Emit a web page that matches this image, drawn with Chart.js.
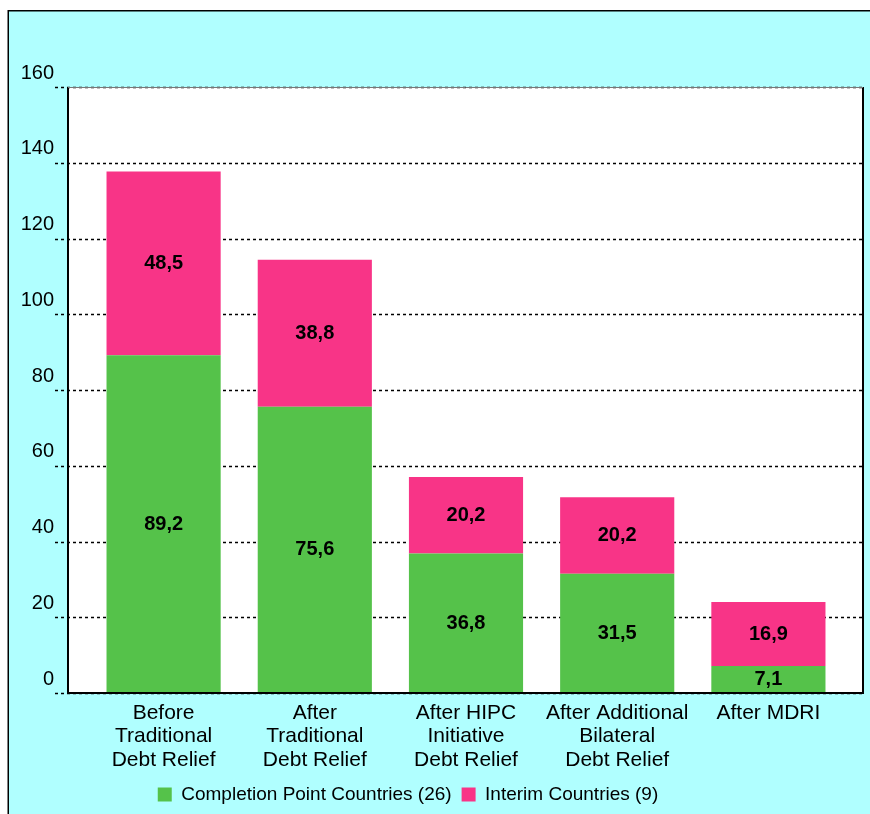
<!DOCTYPE html>
<html><head><meta charset="utf-8">
<script src="https://cdn.jsdelivr.net/npm/chart.js@4.4.0/dist/chart.umd.min.js"></script>
<style>html,body{margin:0;padding:0;background:#fff;}</style>
</head><body>
<canvas id="c" width="870" height="814"></canvas>
<script>
const categories = [
  ["Before", "Traditional", "Debt Relief"],
  ["After", "Traditional", "Debt Relief"],
  ["After HIPC", "Initiative", "Debt Relief"],
  ["After Additional", "Bilateral", "Debt Relief"],
  ["After MDRI"]
];
const completionPoint = [89.2, 75.6, 36.8, 31.5, 7.1];
const interim = [48.5, 38.8, 20.2, 20.2, 16.9];
const seriesNames = ["Completion Point Countries (26)", "Interim Countries (9)"];
const yMin = 0, yMax = 160, yStep = 20;

const FONT = "'Liberation Sans', Arial, sans-serif";
const GREEN = "#55c24a";
const PINK = "#f83487";
const CYAN = "#b0ffff";
const EXT_L = 20, EXT_R = 19;

const framePlugin = {
  id: 'frame',
  afterLayout(chart) {
    if (chart.legend) { chart.legend.left -= 14; chart.legend.right -= 14; }
  },
  beforeDraw(chart) {
    const ctx = chart.ctx, a = chart.chartArea;
    ctx.save();
    ctx.fillStyle = '#fff';
    ctx.fillRect(0, 0, chart.width, chart.height);
    ctx.fillStyle = CYAN;
    ctx.fillRect(8, 10, chart.width - 8, chart.height - 10);
    ctx.fillStyle = '#000';
    ctx.fillRect(8, 10, chart.width - 8, 1.5);
    ctx.fillRect(7.5, 10, 1.5, chart.height - 10);
    ctx.fillStyle = '#fff';
    ctx.fillRect(a.left - EXT_L, a.top, (a.right + EXT_R) - (a.left - EXT_L), a.bottom - a.top);
    ctx.restore();
  },
  beforeDatasetsDraw(chart) {
    const ctx = chart.ctx, a = chart.chartArea, ys = chart.scales.y;
    ctx.save();
    ctx.strokeStyle = '#000';
    ctx.lineWidth = 1.5;
    ctx.setLineDash([3, 3]);
    ys.ticks.forEach(t => {
      const y = Math.round(ys.getPixelForValue(t.value)) + 0.5;
      ctx.beginPath();
      ctx.moveTo(a.left - EXT_L - 13, y);
      ctx.lineTo(a.right + EXT_R, y);
      ctx.stroke();
    });
    ctx.restore();
  },
  afterDatasetsDraw(chart) {
    const ctx = chart.ctx, a = chart.chartArea;
    ctx.save();
    ctx.strokeStyle = '#000';
    ctx.lineWidth = 2;
    ctx.beginPath();
    ctx.moveTo(a.left - EXT_L, a.top);
    ctx.lineTo(a.left - EXT_L, a.bottom);
    ctx.lineTo(a.right + EXT_R, a.bottom);
    ctx.lineTo(a.right + EXT_R, a.top);
    ctx.stroke();
    ctx.strokeStyle = '#777';
    ctx.lineWidth = 1;
    ctx.beginPath();
    ctx.moveTo(a.left - EXT_L, a.top + 0.5);
    ctx.lineTo(a.right + EXT_R, a.top + 0.5);
    ctx.stroke();
    // data labels
    ctx.fillStyle = '#000';
    ctx.font = "bold 20px " + FONT;
    ctx.textAlign = 'center';
    ctx.textBaseline = 'middle';
    chart.data.datasets.forEach((ds, di) => {
      const meta = chart.getDatasetMeta(di);
      meta.data.forEach((el, i) => {
        const v = ds.data[i];
        const cy = (el.y + el.base) / 2;
        ctx.fillText(v.toFixed(1).replace('.', ','), el.x, cy);
      });
    });
    ctx.restore();
  }
};

new Chart(document.getElementById('c'), {
  type: 'bar',
  data: {
    labels: categories,
    datasets: [
      { label: seriesNames[0], data: completionPoint, backgroundColor: GREEN, borderWidth: 0 },
      { label: seriesNames[1], data: interim, backgroundColor: PINK, borderWidth: 0 }
    ]
  },
  options: {
    responsive: false,
    animation: false,
    devicePixelRatio: 1,
    layout: { padding: { top: 87, left: 0, right: 26, bottom: 0 } },
    datasets: { bar: { barPercentage: 0.755, categoryPercentage: 1 } },
    scales: {
      x: {
        stacked: true,
        grid: { display: false, drawTicks: false },
        border: { display: false },
        ticks: { color: '#000', font: { family: FONT, size: 21, lineHeight: 1.1 }, padding: 9, maxRotation: 0, autoSkip: false },
        afterFit(s) { s.height = 82; }
      },
      y: {
        stacked: true,
        min: yMin, max: yMax,
        grid: { display: false, drawTicks: false },
        border: { display: false },
        ticks: { stepSize: yStep, color: '#000', font: { family: FONT, size: 20 }, padding: 34, labelOffset: -14 },
        afterFit(s) { s.width = 88; }
      }
    },
    plugins: {
      legend: {
        position: 'bottom',
        labels: { color: '#000', font: { family: FONT, size: 19 }, boxWidth: 14, boxHeight: 14, padding: 10 }
      },
      tooltip: { enabled: false }
    }
  },
  plugins: [framePlugin]
});
</script>
</body></html>
